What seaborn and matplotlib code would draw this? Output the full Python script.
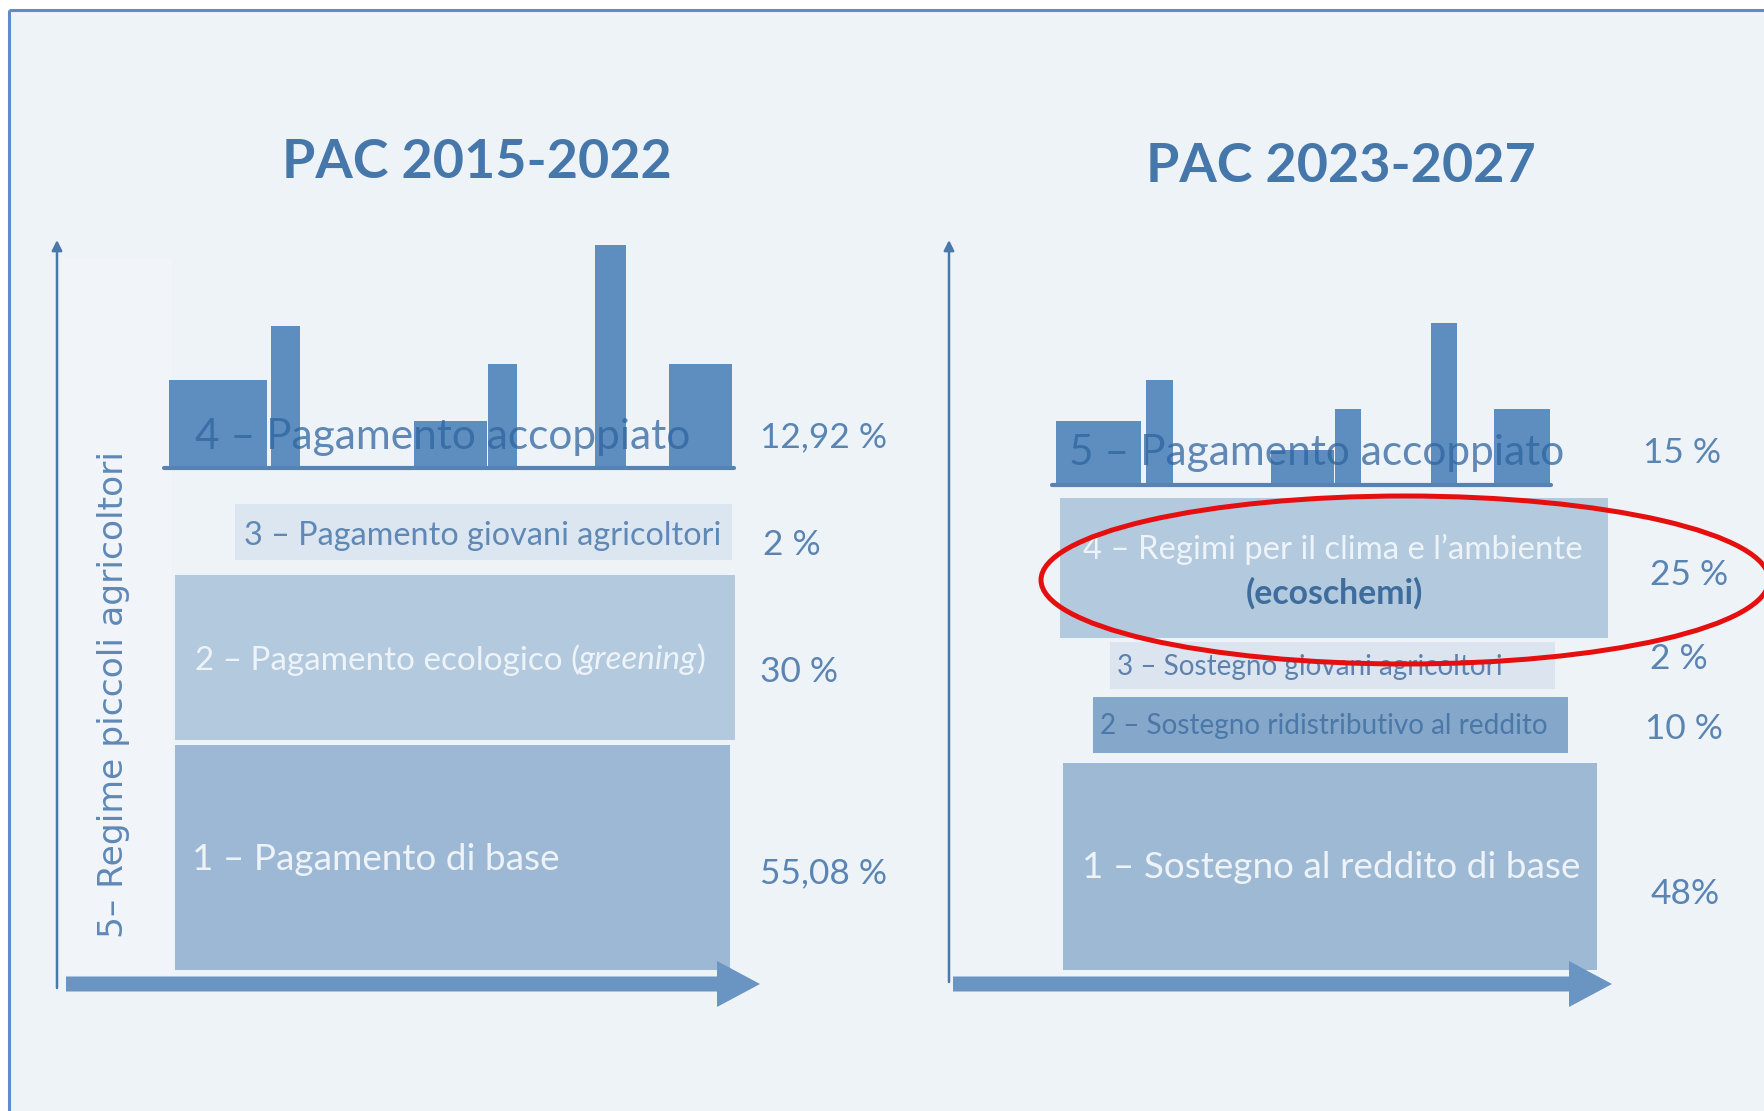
import numpy as np
import pandas as pd
import seaborn as sns
import matplotlib
matplotlib.use("Agg")
import matplotlib.pyplot as plt
from matplotlib.patches import Ellipse, FancyArrow, Rectangle

# ---------------- data ----------------
titles = ["PAC 2015-2022", "PAC 2023-2027"]

old_labels = ["1 – Pagamento di base",
              "2 – Pagamento ecologico (greening)",
              "3 – Pagamento giovani agricoltori",
              "4 – Pagamento accoppiato"]
old_shares = ["55,08 %", "30 %", "2 %", "12,92 %"]

new_labels = ["1 – Sostegno al reddito di base",
              "2 – Sostegno ridistributivo al reddito",
              "3 – Sostegno giovani agricoltori",
              "4 – Regimi per il clima e l’ambiente",
              "5 – Pagamento accoppiato"]
new_sub = "(ecoschemi)"
new_shares = ["48%", "10 %", "2 %", "25 %", "15 %"]

side_label = "5– Regime piccoli agricoltori"

# decorative "coupled payment" histogram bars (heights, px)
coupled_old_heights = [88, 142, 47, 104, 223, 104]
coupled_new_heights = [64, 105, 35, 76, 162, 76]

# ---------------- layout (pixels) ----------------
W, H = 1764, 1111
BG = "#EEF3F8"
BLUE_T = "#4677AA"
PCT_C = "#5A84B2"

# blocks: x0, x1, y0, y1, colour
old_blocks = [(175, 730, 745, 970, "#9DB8D4"),
              (175, 735, 575, 740, "#B2C9DE"),
              (235, 732, 504, 560, "#DCE6F0")]
new_blocks = [(1063, 1597, 763, 970, "#9DB9D4"),
              (1093, 1568, 697, 753, "#84A7CA"),
              (1110, 1555, 642, 689, "#DCE5EF"),
              (1060, 1608, 498, 638, "#B2C9DE")]

coupled_old_x = [(169, 267), (271, 300), (414, 487), (488, 517), (595, 626), (669, 732)]
coupled_new_x = [(1056, 1141), (1146, 1173), (1271, 1334), (1335, 1361), (1431, 1457), (1494, 1550)]
old_base, new_base = 468, 485

sns.set_theme(style="white")
plt.rcParams["font.family"] = ["Lato", "DejaVu Sans"]

fig = plt.figure(figsize=(W / 100, H / 100), dpi=100)
fig.patch.set_facecolor("white")
ax = fig.add_axes([0, 0, 1, 1])
ax.set_xlim(0, W)
ax.set_ylim(H, 0)
ax.axis("off")

# background + frame (top and left edges)
ax.add_patch(Rectangle((9, 10), W, H, facecolor=BG, edgecolor="none", zorder=0))
ax.plot([9, W], [10, 10], color="#5F8CC8", lw=2.2, zorder=1, solid_capstyle="butt")
ax.plot([9, 9], [10, H], color="#5F8CC8", lw=2.2, zorder=1, solid_capstyle="butt")
ax.add_patch(Rectangle((62, 258), 110, 717, facecolor="#F1F5F9", edgecolor="none", zorder=0.5))

# blocks
for blocks in (old_blocks, new_blocks):
    for x0, x1, y0, y1, c in blocks:
        ax.bar(x0, y1 - y0, bottom=y0, width=x1 - x0, align="edge",
               color=c, linewidth=0, zorder=2)

# coupled histograms
for xs, hs, base in ((coupled_old_x, coupled_old_heights, old_base),
                     (coupled_new_x, coupled_new_heights, new_base)):
    lefts = [a for a, b in xs]
    widths = [b - a for a, b in xs]
    ax.bar(lefts, hs, bottom=[base - h for h in hs], width=widths, align="edge",
           color="#5E8EBF", linewidth=0, zorder=2)
ax.plot([164, 734], [old_base, old_base], color="#5882B0", lw=3, zorder=3)
ax.plot([1052, 1551], [new_base, new_base], color="#5882B0", lw=3, zorder=3)

# axes arrows
for x, y0 in ((57, 988), (949, 982)):
    ax.annotate("", xy=(x, 240), xytext=(x, y0),
                arrowprops=dict(arrowstyle="-|>", color="#4A78A8", lw=1.8,
                                mutation_scale=15, shrinkA=0, shrinkB=0), zorder=3)
for x0, x1 in ((66, 760), (953, 1612)):
    ax.add_patch(FancyArrow(x0, 984, x1 - x0, 0, width=15, head_width=46,
                            head_length=43, length_includes_head=True,
                            color="#6A95C2", linewidth=0, zorder=3))

fig.canvas.draw()
R = fig.canvas.get_renderer()


def fit(x, y, s, target_w, ha="left", size0=20, rot=0, **kw):
    t = ax.text(x, y, s, fontsize=size0, ha=ha, va="center", rotation=rot,
                rotation_mode="anchor" if rot == 0 else "default", zorder=5, **kw)
    bb = t.get_window_extent(R)
    w = bb.width if rot == 0 else bb.height
    t.set_fontsize(size0 * target_w / w)
    return t


def fit_parts(x, y, parts, target_w, color, size0=20):
    texts = [ax.text(0, y, s, fontsize=size0, style=st, ha="left", va="center",
                     color=color, zorder=5) for s, st in parts]
    widths = [t.get_window_extent(R).width for t in texts]
    k = target_w / sum(widths)
    cx = x
    for t, w in zip(texts, widths):
        t.set_fontsize(size0 * k)
        t.set_x(cx)
        cx += w * k


# titles
fit(477, 162, titles[0], 390, ha="center", fontweight="bold", color=BLUE_T)
fit(1341, 166, titles[1], 390, ha="center", fontweight="bold", color=BLUE_T)

# side label
fit(113, 695, side_label, 486, ha="center", rot=90, color="#5F88B6",
    family=["DejaVu Sans"])

# old panel labels
LIGHT = "#EEF3F8"
fit(192, 860, old_labels[0], 368, color=LIGHT)
fit_parts(195, 660, [("2 – Pagamento ecologico (", "normal"), ("greening", "italic"),
                     (")", "normal")], 511, LIGHT)
fit(244, 536, old_labels[2], 476, color="#5F88B5")
fit(195, 437, old_labels[3], 494, color="#2F64A0", alpha=0.75)

# new panel labels
fit(1082, 868, new_labels[0], 499, color=LIGHT)
fit(1100, 726, new_labels[1], 447, color="#4B78A8")
fit(1117, 667, new_labels[2], 385, color="#5D82AD")
fit(1083, 549, new_labels[3], 501, color=LIGHT)
fit(1334, 593, new_sub, 177, ha="center", fontweight="bold", color="#3D6C9D")
fit(1069, 453, new_labels[4], 495, color="#2F64A0", alpha=0.75)

# percentages
pct_ref = fit(760, 437, old_shares[3], 127, color=PCT_C)
ps = pct_ref.get_fontsize()
for s, y in zip(old_shares[:3], (873, 672, 545)):
    ax.text(760 if s != "2 %" else 763, y, s, fontsize=ps, ha="left", va="center",
            color=PCT_C, zorder=5)
for s, y in zip(new_shares, (894, 729, 659, 575, 453)):
    x = {"48%": 1651, "10 %": 1645, "2 %": 1650, "25 %": 1650, "15 %": 1643}[s]
    ax.text(x, y, s, fontsize=ps, ha="left", va="center", color=PCT_C, zorder=5)

# red highlight ellipse
ax.add_patch(Ellipse((1405, 580), 728, 168, fill=False, edgecolor="#E60F0F",
                     lw=3.6, zorder=6))

fig.savefig("out.png", dpi=100, facecolor="white")
